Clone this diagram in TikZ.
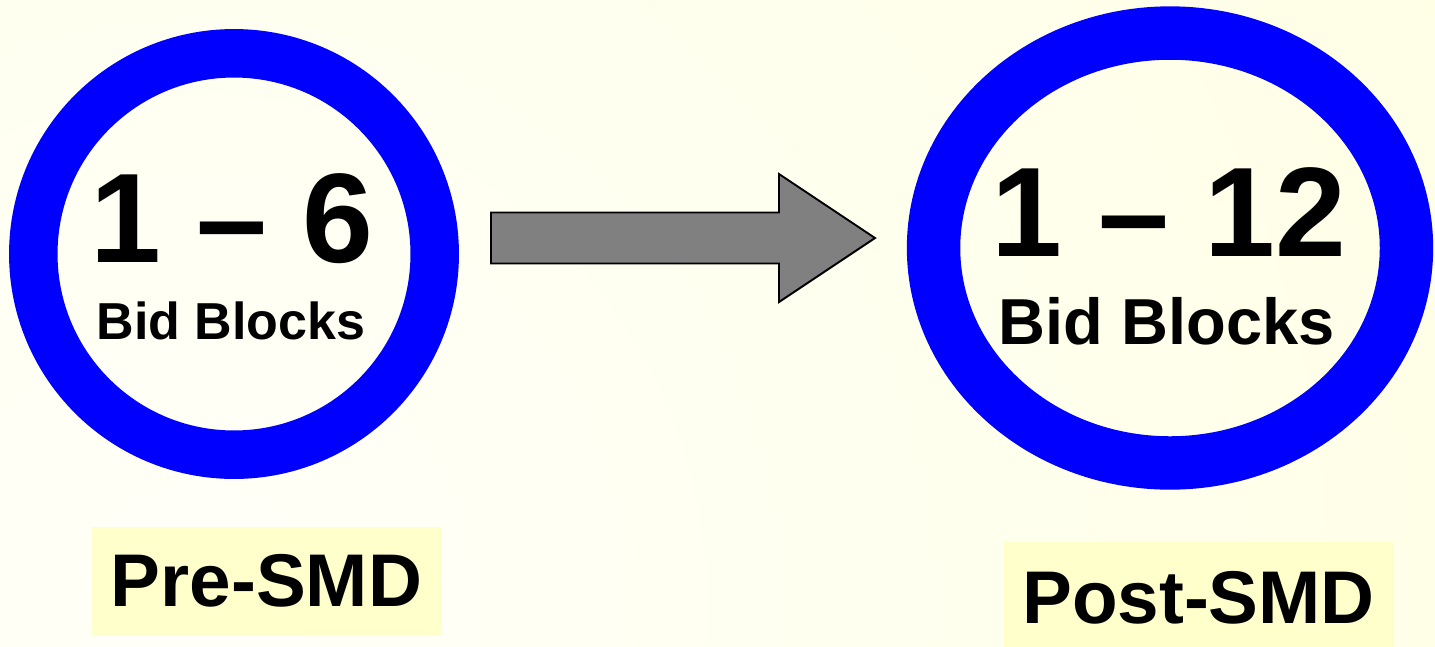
\documentclass[tikz,border=0pt]{standalone}
\usepackage{fontspec}
\setmainfont{Liberation Sans}
\usepackage{tikz}
\usetikzlibrary{shapes.geometric,positioning,calc}

\definecolor{ringblue}{HTML}{0000FF}
\definecolor{paleback}{HTML}{FFFFF8}
\definecolor{yellowback}{HTML}{FFFFD4}
\definecolor{labelfill}{HTML}{FFFFCC}
\definecolor{arrowgray}{HTML}{808080}

\begin{document}
\begin{tikzpicture}[x=0.02cm, y=-0.02cm,
  ring/.style = {draw=ringblue, inner sep=0pt},
  bignum/.style = {inner sep=0pt, anchor=base, font=\bfseries\fontsize{72.5}{80}\selectfont},
  subtext/.style = {inner sep=0pt, anchor=base, font=\bfseries\fontsize{#1}{#1}\selectfont},
  era/.style = {fill=labelfill, inner sep=0pt, font=\bfseries\fontsize{42.5}{48}\selectfont},
  blockarrow/.style = {draw=black, line width=1.1pt, fill=arrowgray, line join=miter}]
  % background
  \useasboundingbox (0,0) rectangle (1435,646);
  \begin{scope}
    \clip (0,0) rectangle (1435,646);
    \shade[inner color=paleback, outer color=yellowback] (200,600) circle (2800);
  \end{scope}
  % rings
  \node[ring, circle, line width=27.6pt, minimum size=8.03cm] (preRing) at (234,254) {};
  \node[ring, ellipse, line width=30.4pt, minimum width=9.46cm, minimum height=8.6cm] (postRing) at (1170,248) {};
  % texts in the rings
  \node[bignum] (preNum) at (232,262.7) {1 \textendash{} 6};
  \node[subtext=29.6] (preSub) at (231,339) {Bid Blocks};
  \node[bignum] (postNum) at (1169,256.7) {1 \textendash{} 12};
  \node[subtext=37] (postSub) at (1166.5,344.5) {Bid Blocks};
  % labels
  \node[era, minimum width=6.98cm, minimum height=2.17cm] (preLabel) at (266.5,581) {Pre-SMD};
  \node[era, minimum width=7.78cm, minimum height=2.24cm] (postLabel) at (1198.5,598) {Post-SMD};
  % arrow
  \coordinate (arrowTail) at (491,238);
  \coordinate (arrowTip) at (875,238);
  \draw[blockarrow] ($(arrowTail)+(0,-25.5)$) -- (779,212.5) -- (779,174) -- (arrowTip)
    -- (779,302) -- (779,263.5) -- ($(arrowTail)+(0,25.5)$) -- cycle;
\end{tikzpicture}
\end{document}
